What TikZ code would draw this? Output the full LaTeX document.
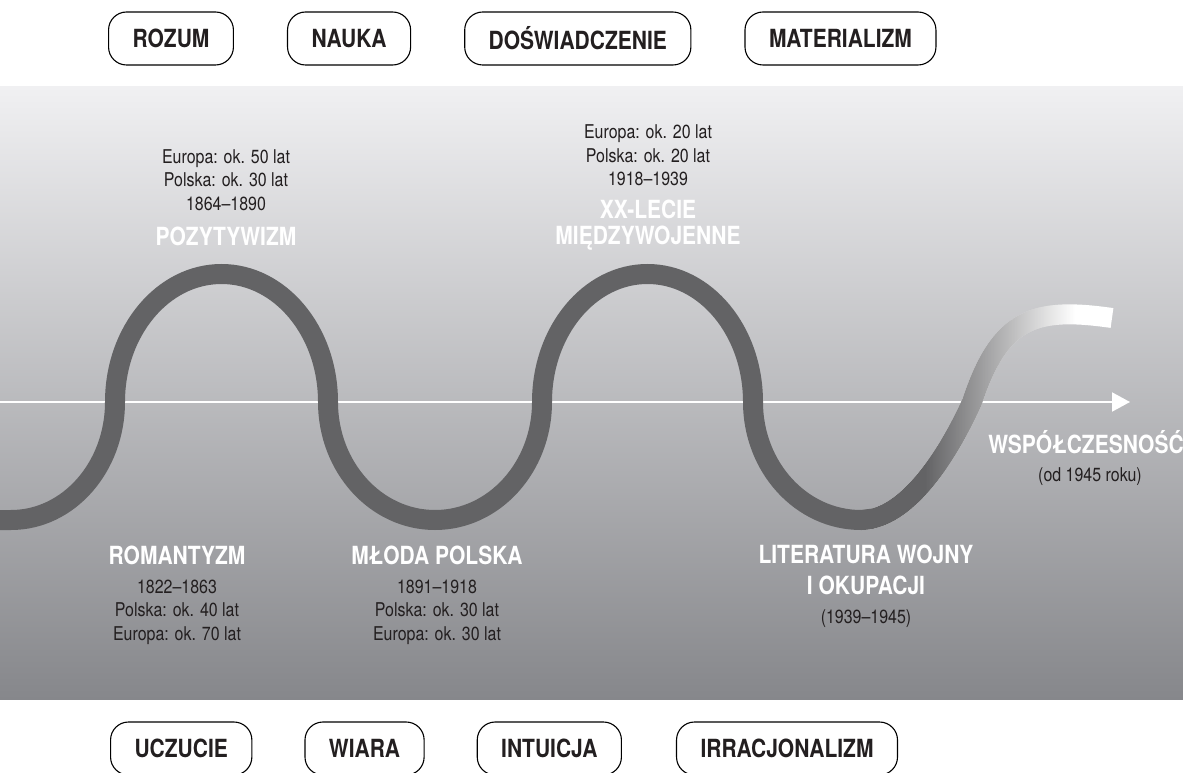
\documentclass[tikz,border=0pt]{standalone}
\usepackage{fontspec}
\setmainfont{TeX Gyre Heros}[FakeStretch=0.84]
\usepackage{tikz}
\usetikzlibrary{arrows.meta,positioning,fadings}

\definecolor{wavegray}{RGB}{99,99,101}
\definecolor{bandtop}{RGB}{240,240,242}
\definecolor{bandbot}{RGB}{134,135,139}
\definecolor{inkdark}{RGB}{35,31,32}

\tikzfading[name=fade right, left color=transparent!0, right color=transparent!100]

\tikzset{
    pill/.style={draw=black, line width=1.1pt, fill=white, rounded corners=18pt,
        minimum height=53pt, inner xsep=24pt, text=inkdark,
        font=\fontsize{25}{26}\selectfont\bfseries},
    era/.style={text=white, align=center, inner sep=0pt,
        font=\fontsize{25}{26}\selectfont\bfseries},
    info/.style={text=inkdark, align=center, inner sep=0pt,
        font=\fontsize{19}{23.5}\selectfont},
    wave/.style={wavegray, line width=20pt}
}

\begin{document}
\begin{tikzpicture}[x=1pt, y=1pt]
    \useasboundingbox (0,0) rectangle (1183,772);
    \fill[white] (0,0) rectangle (1183,772);

    % Grey band
    \shade[top color=bandtop, bottom color=bandbot] (0,73) rectangle (1183,685);

    % Time axis
    \coordinate (axisL) at (0,370);
    \coordinate (axisR) at (1130,370);
    \draw[white, line width=2pt, -{Triangle[length=18pt, width=19pt]}] (axisL) -- (axisR);

    % Fading tail (white under, faded grey on top)
    \coordinate (trough) at (861,252);
    \draw[wave, white] (trough) .. controls (900,252) and (940,300) .. (972,370)
        .. controls (1000,455) and (1035,465) .. (1112,454);
    \draw[wave, path fading=fade right, fit fading=false,
        fading transform={shift={(999.5,360)}, xscale=3, yscale=3}]
        (trough) .. controls (900,252) and (940,300) .. (972,370)
        .. controls (1000,455) and (1035,465) .. (1112,454);

    % Wave
    \draw[wave] (-20,252) -- (11,252)
        arc[start angle=270, end angle=360, x radius=104, y radius=118]
        arc[start angle=180, end angle=0, x radius=106.5, y radius=128]
        arc[start angle=180, end angle=360, x radius=107, y radius=118]
        arc[start angle=180, end angle=0, x radius=105.5, y radius=128]
        arc[start angle=180, end angle=270, x radius=108, y radius=118]
        -- (872.7,253.4);

    % Top row
    \node[pill, anchor=west] (rozum) at (108,733.5) {ROZUM};
    \node[pill, right=53pt of rozum] (nauka) {NAUKA};
    \node[pill, right=53pt of nauka] (doswiadczenie) {DOŚWIADCZENIE};
    \node[pill, right=53pt of doswiadczenie] (materializm) {MATERIALIZM};

    % Bottom row
    \node[pill, anchor=west] (uczucie) at (110,23.5) {UCZUCIE};
    \node[pill, right=52pt of uczucie] (wiara) {WIARA};
    \node[pill, right=52pt of wiara] (intuicja) {INTUICJA};
    \node[pill, right=54pt of intuicja] (irracjonalizm) {IRRACJONALIZM};

    % Epochs above the axis
    \node[info] (pozinfo) at (226,592) {Europa: ok. 50 lat\\Polska: ok. 30 lat\\1864–1890};
    \node[era] (poz) at (226,536) {POZYTYWIZM};
    \node[info] (dwuinfo) at (648,616.5) {Europa: ok. 20 lat\\Polska: ok. 20 lat\\1918–1939};
    \node[era] (dwu) at (648,547) {XX-LECIE\\MIĘDZYWOJENNE};

    % Epochs below the axis
    \node[era] (rom) at (177,217) {ROMANTYZM};
    \node[info] (rominfo) at (177,160) {1822–1863\\Polska: ok. 40 lat\\Europa: ok. 70 lat};
    \node[era] (mp) at (437,217) {MŁODA POLSKA};
    \node[info] (mpinfo) at (437,160) {1891–1918\\Polska: ok. 30 lat\\Europa: ok. 30 lat};
    \node[era] (wojna) at (866,202) {LITERATURA WOJNY\\[5pt]I OKUPACJI};
    \node[info] (wojnainfo) at (866,153) {(1939–1945)};

    % Today
    \node[era] (wsp) at (1086,330) {WSPÓŁCZESNOŚĆ};
    \node[info] (wspinfo) at (1090,295) {(od 1945 roku)};
\end{tikzpicture}
\end{document}
